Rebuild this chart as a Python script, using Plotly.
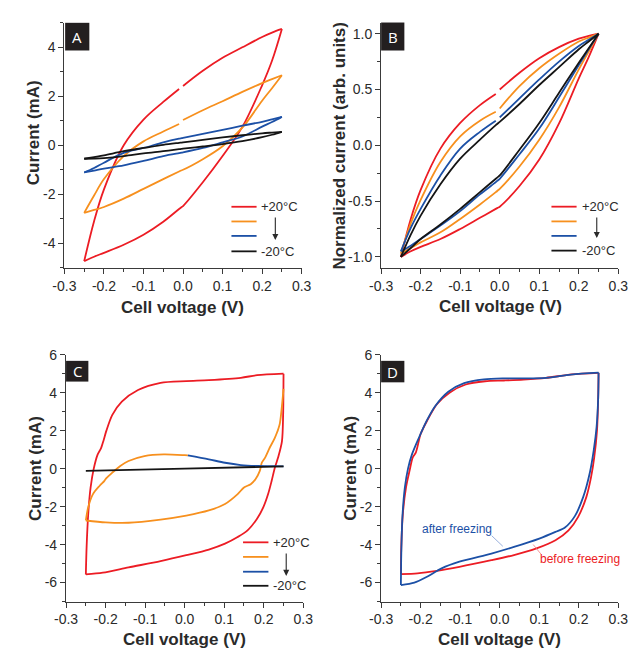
import plotly.graph_objects as go

# ---------------- data ----------------
V_AB = [-0.25, -0.225, -0.2, -0.15, -0.1, -0.05, -0.01, -0.005, 0.0, 0.05, 0.1, 0.15, 0.2, 0.225, 0.25]

A_RED_UP = [-4.73, -3.1, -1.8, 0.0, 1.05, 1.77, 2.3, None, 2.42, 3.04, 3.57, 4.0, 4.42, 4.6, 4.75]
A_RED_DN = [-4.73, -4.55, -4.39, -4.06, -3.65, -3.12, -2.6, -2.54, -2.48, -1.51, -0.44, 0.75, 2.45, 3.45, 4.75]
A_ORG_UP = [-2.76, -2.05, -1.38, -0.44, 0.16, 0.56, 0.87, None, 1.03, 1.43, 1.8, 2.18, 2.54, 2.7, 2.86]
A_ORG_DN = [-2.76, -2.64, -2.52, -2.18, -1.78, -1.38, -1.07, -1.03, -1.0, -0.57, -0.04, 0.72, 1.82, 2.33, 2.86]
A_BLU_UP = [-1.11, -0.93, -0.71, -0.31, -0.11, 0.12, 0.27, 0.285, 0.3, 0.47, 0.63, 0.8, 0.96, 1.06, 1.16]
A_BLU_DN = [-1.11, -1.03, -0.95, -0.82, -0.64, -0.44, -0.32, -0.305, -0.29, -0.11, 0.12, 0.36, 0.76, 0.95, 1.16]
A_BLK_UP = [-0.55, -0.48, -0.41, -0.24, -0.11, 0.02, 0.1, 0.11, 0.12, 0.22, 0.32, 0.41, 0.49, 0.52, 0.55]
A_BLK_DN = [-0.55, -0.54, -0.52, -0.44, -0.33, -0.24, -0.16, -0.15, -0.14, -0.05, 0.05, 0.17, 0.33, 0.43, 0.55]

B_RED_UP = [-1.0, -0.66, -0.4, -0.03, 0.2, 0.36, 0.46, None, 0.5, 0.65, 0.78, 0.88, 0.955, 0.98, 1.0]
B_RED_DN = [-1.0, -0.95, -0.91, -0.84, -0.75, -0.65, -0.57, -0.56, -0.55, -0.365, -0.128, 0.196, 0.6, 0.79, 1.0]
B_ORG_UP = [-0.97, -0.7, -0.49, -0.15, 0.08, 0.22, 0.3, None, 0.33, 0.53, 0.69, 0.82, 0.93, 0.965, 1.0]
B_ORG_DN = [-0.97, -0.92, -0.87, -0.78, -0.66, -0.53, -0.42, -0.405, -0.39, -0.19, 0.05, 0.34, 0.68, 0.84, 1.0]
B_BLU_UP = [-0.95, -0.74, -0.57, -0.27, -0.03, 0.12, 0.22, None, 0.25, 0.42, 0.59, 0.75, 0.89, 0.945, 1.0]
B_BLU_DN = [-0.95, -0.9, -0.84, -0.72, -0.59, -0.44, -0.33, -0.315, -0.3, -0.08, 0.15, 0.43, 0.72, 0.86, 1.0]
B_BLK_UP = [-1.0, -0.8, -0.63, -0.35, -0.12, 0.05, 0.18, 0.195, 0.21, 0.37, 0.54, 0.7, 0.86, 0.93, 1.0]
B_BLK_DN = [-1.0, -0.92, -0.84, -0.71, -0.57, -0.42, -0.3, -0.285, -0.27, -0.04, 0.2, 0.47, 0.74, 0.87, 1.0]

C_RED_UP_V = [-0.25, -0.248, -0.244, -0.238, -0.23, -0.22, -0.212, -0.205, -0.198, -0.183, -0.159, -0.118, -0.061, 0.004, 0.061, 0.142, 0.183, 0.25]
C_RED_UP_I = [-5.57, -4.1, -2.4, -1.0, 0.0, 0.75, 1.05, 1.5, 2.0, 2.83, 3.53, 4.14, 4.52, 4.61, 4.66, 4.78, 4.92, 5.0]
C_RED_DN_V = [0.25, 0.249, 0.246, 0.236, 0.228, 0.22, 0.211, 0.199, 0.183, 0.159, 0.134, 0.102, 0.061, 0.004, -0.061, -0.142, -0.207, -0.25]
C_RED_DN_I = [5.0, 2.83, 1.44, 0.57, 0.05, -0.64, -1.34, -2.03, -2.64, -3.25, -3.6, -3.95, -4.26, -4.56, -4.87, -5.2, -5.48, -5.57]
C_ORG_UP_V = [-0.25, -0.244, -0.232, -0.215, -0.203, -0.198, -0.183, -0.163, -0.142, -0.102, -0.053, 0.0, 0.008]
C_ORG_UP_I = [-2.73, -2.03, -1.34, -0.9, -0.64, -0.5, -0.21, 0.14, 0.4, 0.66, 0.75, 0.71, 0.70]
C_ORG_DN_V = [0.25, 0.245, 0.24, 0.228, 0.215, 0.203, 0.195, 0.19, 0.179, 0.167, 0.15, 0.134, 0.102, 0.061, 0.004, -0.061, -0.142, -0.2, -0.25]
C_ORG_DN_I = [4.2, 3.1, 2.31, 1.62, 1.1, 0.57, 0.31, -0.12, -0.56, -0.82, -0.99, -1.34, -1.86, -2.2, -2.47, -2.68, -2.85, -2.83, -2.73]
C_BLU_V = [0.008, 0.061, 0.102, 0.142, 0.183, 0.224, 0.25]
C_BLU_I = [0.70, 0.49, 0.31, 0.19, 0.14, 0.13, 0.12]
C_BLK_V = [-0.25, 0.0, 0.25]
C_BLK_I = [-0.12, 0.0, 0.12]

D_RED_UP_V = [-0.25, -0.249, -0.245, -0.237, -0.228, -0.22, -0.212, -0.2, -0.184, -0.159, -0.127, -0.086, -0.037, 0.011, 0.06, 0.117, 0.182, 0.25]
D_RED_UP_I = [-5.55, -4.12, -2.37, -0.98, -0.1, 0.59, 0.86, 1.82, 2.51, 3.39, 4.0, 4.43, 4.6, 4.64, 4.69, 4.78, 4.96, 5.04]
D_RED_DN_V = [0.25, 0.249, 0.246, 0.239, 0.231, 0.219, 0.198, 0.174, 0.141, 0.093, 0.036, -0.021, -0.102, -0.159, -0.208, -0.25]
D_RED_DN_I = [5.04, 3.73, 2.0, 0.59, -0.45, -1.5, -2.55, -3.25, -3.77, -4.2, -4.55, -4.82, -5.17, -5.38, -5.51, -5.55]
D_BLU_UP_V = [-0.25, -0.249, -0.246, -0.24, -0.232, -0.222, -0.205, -0.184, -0.163, -0.13, -0.09, -0.04, 0.01, 0.06, 0.117, 0.18, 0.25]
D_BLU_UP_I = [-6.13, -4.5, -2.5, -1.0, 0.0, 0.75, 1.6, 2.55, 3.3, 4.05, 4.5, 4.7, 4.75, 4.75, 4.78, 4.95, 5.05]
D_BLU_DN_V = [0.25, 0.249, 0.245, 0.238, 0.228, 0.211, 0.19, 0.165, 0.141, 0.1, 0.036, -0.021, -0.102, -0.147, -0.184, -0.216, -0.25]
D_BLU_DN_I = [5.05, 3.7, 2.2, 1.0, -0.2, -1.5, -2.5, -3.1, -3.33, -3.68, -4.12, -4.47, -4.9, -5.25, -5.69, -6.0, -6.13]

X_TICKS = [-0.3, -0.2, -0.1, 0.0, 0.1, 0.2, 0.3]
X_TICKTEXT = ["-0.3", "-0.2", "-0.1", "0.0", "0.1", "0.2", "0.3"]
A_YTICKS = [-4, -2, 0, 2, 4]
A_YTICKTEXT = ["-4", "-2", "0", "2", "4"]
B_YTICKS = [-1.0, -0.5, 0.0, 0.5, 1.0]
B_YTICKTEXT = ["-1.0", "-0.5", "0.0", "0.5", "1.0"]
CD_YTICKS = [-6, -4, -2, 0, 2, 4, 6]
CD_YTICKTEXT = ["-6", "-4", "-2", "0", "2", "4", "6"]

LEGEND_LABELS = ["+20°C", "-20°C"]
PANEL_LETTERS = ["A", "B", "C", "D"]

# ---------------- style ----------------
RED = "#EC1C24"
ORANGE = "#F7901E"
BLUE = "#1C50A6"
BLACK = "#151515"
TXT = "#2a2a2a"
FONT = "Liberation Sans, Arial, sans-serif"
LW = 1.8

W, H = 638, 649


def px2fx(px):
    return px / W


def py2fy(py):
    return 1 - py / H


fig = go.Figure()


def add_curve(x, y, color, ax, smooth=1.0):
    fig.add_trace(go.Scatter(
        x=x, y=y, mode="lines", xaxis="x" + ax, yaxis="y" + ax,
        line=dict(color=color, width=LW, shape="spline", smoothing=smooth),
        connectgaps=False, showlegend=False, hoverinfo="skip"))


# panel A
for up, dn, c in [(A_RED_UP, A_RED_DN, RED), (A_ORG_UP, A_ORG_DN, ORANGE),
                  (A_BLU_UP, A_BLU_DN, BLUE), (A_BLK_UP, A_BLK_DN, BLACK)]:
    add_curve(V_AB, up, c, "")
    add_curve(V_AB, dn, c, "")

# panel B
for up, dn, c in [(B_RED_UP, B_RED_DN, RED), (B_ORG_UP, B_ORG_DN, ORANGE),
                  (B_BLU_UP, B_BLU_DN, BLUE), (B_BLK_UP, B_BLK_DN, BLACK)]:
    add_curve(V_AB, up, c, "2")
    add_curve(V_AB, dn, c, "2")

# panel C
add_curve(C_RED_UP_V, C_RED_UP_I, RED, "3", 0.8)
add_curve(C_RED_DN_V, C_RED_DN_I, RED, "3", 0.8)
add_curve(C_ORG_UP_V, C_ORG_UP_I, ORANGE, "3", 0.8)
add_curve(C_ORG_DN_V, C_ORG_DN_I, ORANGE, "3", 0.8)
add_curve(C_BLU_V, C_BLU_I, BLUE, "3", 0.8)
add_curve(C_BLK_V, C_BLK_I, BLACK, "3", 0.8)

# panel D
add_curve(D_RED_UP_V, D_RED_UP_I, RED, "4", 0.8)
add_curve(D_RED_DN_V, D_RED_DN_I, RED, "4", 0.8)
add_curve(D_BLU_UP_V, D_BLU_UP_I, BLUE, "4", 0.8)
add_curve(D_BLU_DN_V, D_BLU_DN_I, BLUE, "4", 0.8)

# axes domains in pixels: (left, right, top, bottom)
DOM = {
    "": (54.3, 300.0, 15.0, 263.0),
    "2": (382.3, 628.0, 14.7, 263.3),
    "3": (56.0, 301.7, 351.0, 601.0),
    "4": (382.3, 628.0, 351.0, 601.0),
}
YCFG = {
    "": ([-5, 5], A_YTICKS, A_YTICKTEXT, 1),
    "2": ([-1.1, 1.1], B_YTICKS, B_YTICKTEXT, 0.25),
    "3": ([-7, 6], CD_YTICKS, CD_YTICKTEXT, 1),
    "4": ([-7, 6], CD_YTICKS, CD_YTICKTEXT, 1),
}

axis_common = dict(showgrid=False, zeroline=False, showline=True, linecolor="#3a3a3a",
                   linewidth=1.2, ticks="outside", ticklen=5, tickwidth=1.1,
                   tickcolor="#3a3a3a", tickfont=dict(family=FONT, size=14, color=TXT),
                   mirror=False)
layout_axes = {}
for k, (l, r, t, b) in DOM.items():
    yr, yt, ytt, ymin = YCFG[k]
    layout_axes["xaxis" + k] = dict(
        axis_common, domain=[px2fx(l), px2fx(r)], range=[-0.3, 0.3],
        anchor="y" + k, tickvals=X_TICKS, ticktext=X_TICKTEXT,
        minor=dict(ticks="outside", ticklen=3, tickcolor="#3a3a3a", tickwidth=1, dtick=0.05, tick0=0))
    layout_axes["yaxis" + k] = dict(
        axis_common, domain=[py2fy(b), py2fy(t)], range=yr,
        anchor="x" + k, tickvals=yt, ticktext=ytt,
        minor=dict(ticks="outside", ticklen=3, tickcolor="#3a3a3a", tickwidth=1, dtick=ymin, tick0=0))

shapes = []
annotations = []

# panel letter boxes
BOXES = {
    "": (0.003, 0.105, 0.887, 1.0),
    "2": (0.0, 0.098, 0.886, 1.0),
    "3": (0.0, 0.094, 0.891, 0.975),
    "4": (0.0, 0.098, 0.888, 0.975),
}
for letter, (k, (x0, x1, y0, y1)) in zip(PANEL_LETTERS, BOXES.items()):
    shapes.append(dict(type="rect", xref=("x" + k) + " domain", yref=("y" + k) + " domain",
                       x0=x0, x1=x1, y0=y0, y1=y1, fillcolor="#231f20", line=dict(width=0), layer="above"))
    annotations.append(dict(text=letter, xref=("x" + k) + " domain", yref=("y" + k) + " domain",
                            x=(x0 + x1) / 2, y=(y0 + y1) / 2, showarrow=False,
                            font=dict(family="Open Sans, Liberation Sans, sans-serif", size=15, color="white"),
                            xanchor="center", yanchor="middle"))

# temperature legends (A, B, C)
LEG = {
    "": dict(x0=0.704, x1=0.81, ys=[0.249, 0.189, 0.13, 0.067], tx=0.822, ax=0.889, ay0=0.113, alen=24),
    "2": dict(x0=0.718, x1=0.824, ys=[0.25, 0.19, 0.131, 0.071], tx=0.838, ax=0.909, ay0=0.122, alen=22),
    "3": dict(x0=0.746, x1=0.853, ys=[0.24, 0.181, 0.121, 0.064], tx=0.865, ax=0.928, ay0=0.104, alen=24),
}
for k, L in LEG.items():
    xr, yr = ("x" + k) + " domain", ("y" + k) + " domain"
    for yy, c in zip(L["ys"], [RED, ORANGE, BLUE, BLACK]):
        shapes.append(dict(type="line", xref=xr, yref=yr, x0=L["x0"], x1=L["x1"], y0=yy, y1=yy,
                           line=dict(color=c, width=1.8)))
    for yy, lab in zip([L["ys"][0], L["ys"][3]], LEGEND_LABELS):
        annotations.append(dict(text=lab, xref=xr, yref=yr, x=L["tx"], y=yy, showarrow=False,
                                xanchor="left", yanchor="middle",
                                font=dict(family=FONT, size=13, color=TXT)))
    annotations.append(dict(text="", xref=xr, yref=yr, x=L["ax"], y=L["ay0"], ax=0, ay=-L["alen"],
                            showarrow=True, arrowhead=2, arrowsize=1.1, arrowwidth=1.1,
                            arrowcolor="#2a2a2a"))

# panel D labels
annotations.append(dict(text="after freezing", xref="x4 domain", yref="y4 domain", x=0.32, y=0.292,
                        xanchor="center", yanchor="middle",
                        showarrow=False, font=dict(family=FONT, size=12, color=BLUE)))
annotations.append(dict(text="before freezing", xref="x4 domain", yref="y4 domain", x=0.837, y=0.172,
                        xanchor="center", yanchor="middle",
                        showarrow=False, font=dict(family=FONT, size=12, color=RED)))
shapes.append(dict(type="line", xref="x4 domain", yref="y4 domain", x0=0.466, y0=0.267, x1=0.513, y1=0.224,
                   line=dict(color="#7d9bd3", width=0.8)))
shapes.append(dict(type="line", xref="x4 domain", yref="y4 domain", x0=0.641, y0=0.231, x1=0.675, y1=0.191,
                   line=dict(color="#f27a7e", width=0.8)))

# axis titles
TF = dict(family=FONT, size=17, color=TXT)
for txt, x, y, ang in [
    ("<b>Current (mA)</b>", 22.5, 126, -90),
    ("<b>Normalized current (arb. units)</b>", 339, 140, -90),
    ("<b>Current (mA)</b>", 24.5, 466, -90),
    ("<b>Current (mA)</b>", 350.5, 466, -90),
    ("<b>Cell voltage (V)</b>", 176.5, 303, 0),
    ("<b>Cell voltage (V)</b>", 505.5, 302.5, 0),
    ("<b>Cell voltage (V)</b>", 178.5, 639, 0),
    ("<b>Cell voltage (V)</b>", 505, 639, 0),
]:
    annotations.append(dict(text=txt, xref="paper", yref="paper", x=px2fx(x), y=py2fy(y),
                            textangle=ang, showarrow=False, xanchor="center", yanchor="middle", font=TF))

fig.update_layout(
    width=W, height=H, margin=dict(l=0, r=0, t=0, b=0),
    paper_bgcolor="white", plot_bgcolor="white", showlegend=False,
    shapes=shapes, annotations=annotations, **layout_axes)

fig.write_html(
    "out.html",
    config={"displayModeBar": False},
    post_script="document.body.style.margin='0';document.body.style.padding='0';"
                "document.body.style.overflow='hidden';document.documentElement.style.overflow='hidden';")
